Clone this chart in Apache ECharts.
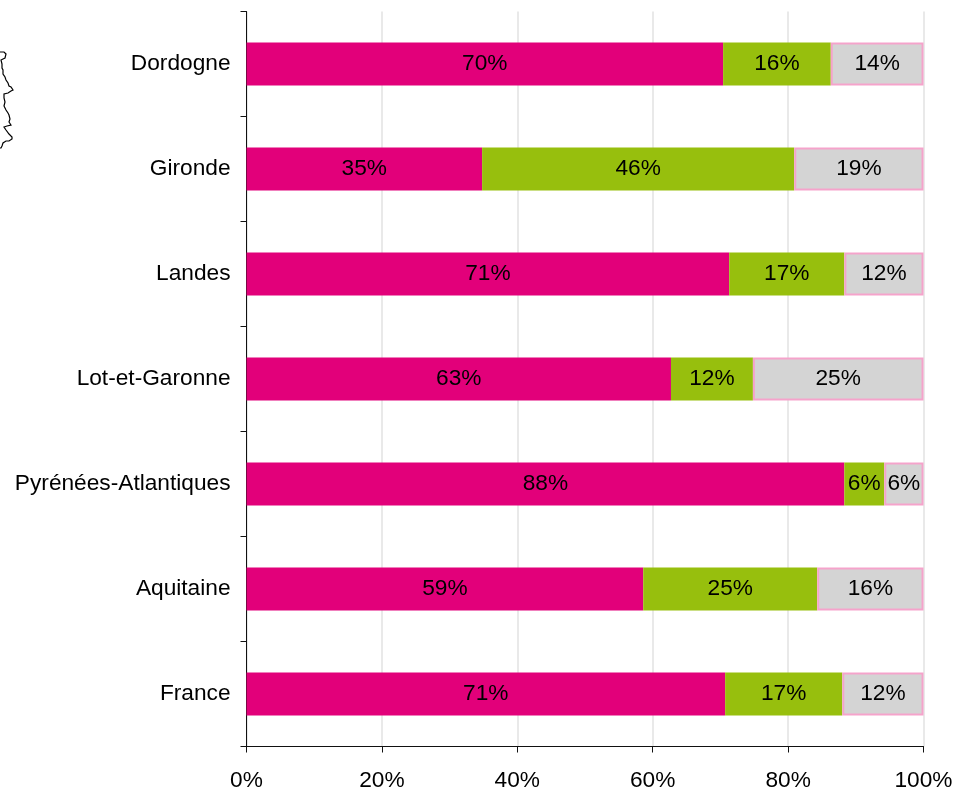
<!DOCTYPE html>
<html><head><meta charset="utf-8">
<style>html,body{margin:0;padding:0;background:#fff}#c{width:957px;height:790px}</style>
<script src="https://cdn.jsdelivr.net/npm/echarts@6/dist/echarts.min.js"></script>
</head><body><div id="c"></div>
<script>
const categories = ['Dordogne','Gironde','Landes','Lot-et-Garonne','Pyrénées-Atlantiques','Aquitaine','France'];
const magentaValues = [70.4,34.8,71.3,62.7,88.3,58.6,70.7];
const greenValues = [15.9,46.1,17.0,12.1,5.9,25.7,17.3];
const greyValues = [13.7,19.1,11.7,25.2,5.8,15.7,12.0];
const magentaLabels = ['70%','35%','71%','63%','88%','59%','71%'];
const greenLabels = ['16%','46%','17%','12%','6%','25%','17%'];
const greyLabels = ['14%','19%','12%','25%','6%','16%','12%'];
const xTicks = [0,20,40,60,80,100];
const font = '"Liberation Sans", Arial, sans-serif';
const mapOutline = [[0,52],[4,52],[6,54],[5,58],[3,59],[1,60],[2,64],[2,68],[3,70],[3,74],[5,77],[6,80],[8,83],[9,86],[11,87],[13,90],[11,91],[8,93],[4,94],[4,98],[5,102],[4,106],[6,110],[8,113],[9,115],[10,119],[9,122],[11,125],[7,126],[4,127],[6,130],[9,134],[12,137],[12,139],[9,141],[6,141],[3,143],[2,146],[1,148],[0,148]];

function stack(name, values, labels, color, extra){
  return Object.assign({
    name, type:'bar', stack:'t', data:values, barWidth:43,
    itemStyle:{color},
    label:{show:true, position:'inside', color:'#000', fontFamily:font, fontSize:22.7,
      formatter:p=>labels[p.dataIndex]}
  }, extra||{});
}
const chart = echarts.init(document.getElementById('c'), null, {renderer:'canvas'});
chart.setOption({
  animation:false, backgroundColor:'#fff',
  grid:{left:246.5, right:33.5, top:11.5, bottom:43.5, containLabel:false, outerBoundsMode:'none'},
  xAxis:{type:'value', min:0, max:100, interval:20, position:'bottom',
    axisLine:{show:true, lineStyle:{color:'#111',width:1}},
    axisTick:{show:true, length:6, lineStyle:{color:'#111',width:1}},
    splitLine:{show:true, lineStyle:{color:'#e2e2e2',width:1.5}},
    axisLabel:{color:'#000', fontFamily:font, fontSize:22.7, margin:23,
      formatter:v=>xTicks.includes(v)?v+'%':''}},
  yAxis:{type:'category', inverse:true, data:categories,
    axisLine:{show:true, onZero:false, lineStyle:{color:'#111',width:1}},
    axisTick:{show:true, length:6, alignWithLabel:false, lineStyle:{color:'#111',width:1}},
    axisLabel:{color:'#000', fontFamily:font, fontSize:22.7, margin:16, padding:[0,0,9,0]}},
  series:[
    stack('Magenta', magentaValues, magentaLabels, '#e2007a'),
    stack('Vert', greenValues, greenLabels, '#97bf0d'),
    stack('Gris', greyValues, greyLabels, '#d4d4d4', {itemStyle:{color:'#d4d4d4', borderColor:'#f5a3cb', borderWidth:2}})
  ],
  graphic:[{type:'polyline', silent:true, shape:{points:mapOutline}, style:{fill:null, stroke:'#000', lineWidth:1.2}}]
});
</script></body></html>
